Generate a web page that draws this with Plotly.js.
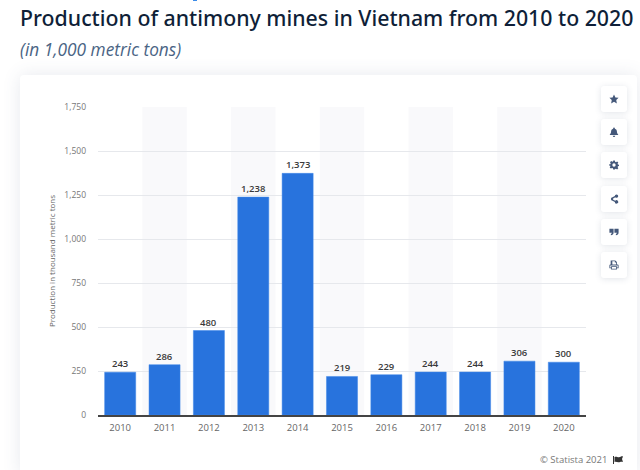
<!DOCTYPE html>
<html>
<head>
<meta charset="utf-8">
<script src="https://cdn.plot.ly/plotly-3.0.1.min.js"></script>
<style>
html,body{margin:0;padding:0;background:#fff;width:640px;height:470px;overflow:hidden;font-family:"Open Sans",sans-serif}
#card{position:absolute;left:20px;top:75px;width:617px;height:400px;background:#fff;border-radius:4px;box-shadow:0 0 18px rgba(70,85,120,.13)}
#chart{position:absolute;left:0;top:0;width:640px;height:470px}
.btn{position:absolute;left:601px;width:26px;height:26px;background:#fff;border-radius:3px;box-shadow:0 1px 6px rgba(70,85,120,.16);display:flex;align-items:center;justify-content:center}
.btn svg{width:10px;height:10px;fill:#44587a}
#flag{position:absolute;left:613px;top:456px;width:10px;height:8px;fill:#333}
#stub{position:absolute;left:193px;top:0;width:4px;height:1px;background:#3b8be8}
</style>
</head>
<body>
<div id="stub"></div>
<div id="card"></div>
<div id="chart"></div>
<div class="btn" style="top:86px"><svg viewBox="0 0 24 24"><path d="M12 1l3.400 7.200 7.600 1-5.600 5.400 1.400 7.900L12 18.700l-6.800 3.800 1.400-7.900L1 9.200l7.600-1z"/></svg></div>
<div class="btn" style="top:119px"><svg viewBox="0 0 24 24"><path d="M12 1a2 2 0 0 1 2 2v1c3.500.8 5 3.700 5 7 0 4 1.500 5.500 3 7v1H2v-1c1.500-1.500 3-3 3-7 0-3.300 1.500-6.200 5-7V3a2 2 0 0 1 2-2zM9 21h6a3 3 0 0 1-6 0z"/></svg></div>
<div class="btn" style="top:152px"><svg viewBox="0 0 24 24"><path fill-rule="evenodd" d="M10 1h4l.7 3.200 2 .9 2.800-1.700 2.800 2.800-1.700 2.800.9 2 3.200.7v2.600l-3.200.7-.9 2 1.700 2.800-2.800 2.800-2.800-1.700-2 .9L14 23h-4l-.7-3.200-2-.9-2.800 1.700-2.800-2.800 1.700-2.800-.9-2L0 13.300v-2.600l3.200-.7.9-2-1.700-2.800 2.800-2.800 2.800 1.700 2-.9zM12 8a4 4 0 1 0 0 8 4 4 0 0 0 0-8z"/></svg></div>
<div class="btn" style="top:186px"><svg viewBox="0 0 24 24"><path d="M18 1a4 4 0 1 1-3 6.600L9.800 10.500a4 4 0 0 1 0 3l5.200 2.900A4 4 0 1 1 14 19l-5.500-3a4 4 0 1 1 0-8L14 5a4 4 0 0 1 4-4z"/></svg></div>
<div class="btn" style="top:219px"><svg viewBox="0 0 24 24"><path d="M1 4h10v9c0 4-2.500 6.500-6.500 7v-3.500c1.500-.4 2.500-1.500 2.500-3H1zM13 4h10v9c0 4-2.500 6.500-6.500 7v-3.500c1.500-.4 2.500-1.500 2.500-3h-6z"/></svg></div>
<div class="btn" style="top:252px"><svg viewBox="0 0 24 24"><path fill-rule="evenodd" d="M6 1h9l4 4v6h2a2 2 0 0 1 2 2v7h-4v3H5v-3H1v-7a2 2 0 0 1 2-2h1V1zm2 2v8h9V6h-3V3zM7 17v4h10v-4zM3 13v5h2v-3h14v3h2v-5z"/></svg></div>
<svg id="flag" viewBox="0 0 10 8"><path d="M0 0h1v8H0zM1.500 1c2-1 3 .5 4.500.3S8.500 0 10 .5l-1 2.500 1 3c-2-.7-3 .3-4.500.3S3 5.500 1.500 6z"/></svg>
<script>
var years = ["2010","2011","2012","2013","2014","2015","2016","2017","2018","2019","2020"];
var production = [243,286,480,1238,1373,219,229,244,244,306,300];
var yTicks = [0,250,500,750,1000,1250,1500,1750];
var titleText = "Production of antimony mines in Vietnam from 2010 to 2020";
var subtitleText = "(in 1,000 metric tons)";
var yTitle = "Production in thousand metric tons";
var sourceText = "© Statista 2021";

var bands = [];
years.forEach(function(y,i){
  if(i%2===1) bands.push({type:"rect",layer:"below",xref:"x",yref:"y",x0:i-0.5,x1:i+0.5,y0:0,y1:1750,fillcolor:"#f9f9fb",line:{width:0}});
});

var valueLabels = production.map(function(v,i){
  return {xref:"x",yref:"y",x:i,y:v,yanchor:"bottom",yshift:0,showarrow:false,text:v.toLocaleString("en-US"),
    font:{family:"Open Sans",size:9.500,color:"#3a3a3a",weight:600}};
});

Plotly.newPlot("chart",[{
  type:"bar",
  x:years,
  y:production,
  marker:{color:"#2873dd",line:{color:"#3f87e8",width:0.5}},
  cliponaxis:false,
  hoverinfo:"none"
}],{
  width:640,height:470,
  paper_bgcolor:"rgba(0,0,0,0)",
  plot_bgcolor:"rgba(0,0,0,0)",
  margin:{l:98,r:54,t:106.500,b:55},
  showlegend:false,
  bargap:0.3,
  font:{family:"Open Sans"},
  title:{text:titleText,font:{family:"Noto Sans",size:21.300,color:"#0f1f38",weight:500},x:20/640,xanchor:"left",xref:"container",y:1-19/470,yanchor:"middle"},
  xaxis:{type:"category",categoryorder:"array",categoryarray:years,range:[-0.5,years.length-0.5],tickfont:{size:9.500,color:"#666"},ticks:"",showgrid:false,showline:true,linecolor:"#444",linewidth:1.500,zeroline:false,automargin:false,ticklabelstandoff:3},
  yaxis:{range:[0,1750],tickvals:yTicks,tickformat:",d",tickfont:{size:8.500,color:"#777"},ticks:"",gridcolor:"#e6e8ec",gridwidth:1,zeroline:false,showline:false,automargin:false,ticklabelstandoff:11,
    title:{text:yTitle,font:{size:8,color:"#666"},standoff:7}},
  shapes:bands,
  annotations:valueLabels.concat([
    {xref:"x domain",yref:"y domain",x:(18-98)/488,y:(415-49)/308.500,xanchor:"left",yanchor:"middle",showarrow:false,text:"<i>"+subtitleText+"</i>",font:{family:"Open Sans",size:17.300,color:"#4a6484"}},
    {xref:"x domain",yref:"y domain",x:(609-98)/488,y:(415-460)/308.500,xanchor:"right",yanchor:"middle",showarrow:false,text:sourceText,font:{family:"Open Sans",size:9.500,color:"#777"}}
  ])
},{displayModeBar:false,staticPlot:true});
</script>
</body>
</html>
